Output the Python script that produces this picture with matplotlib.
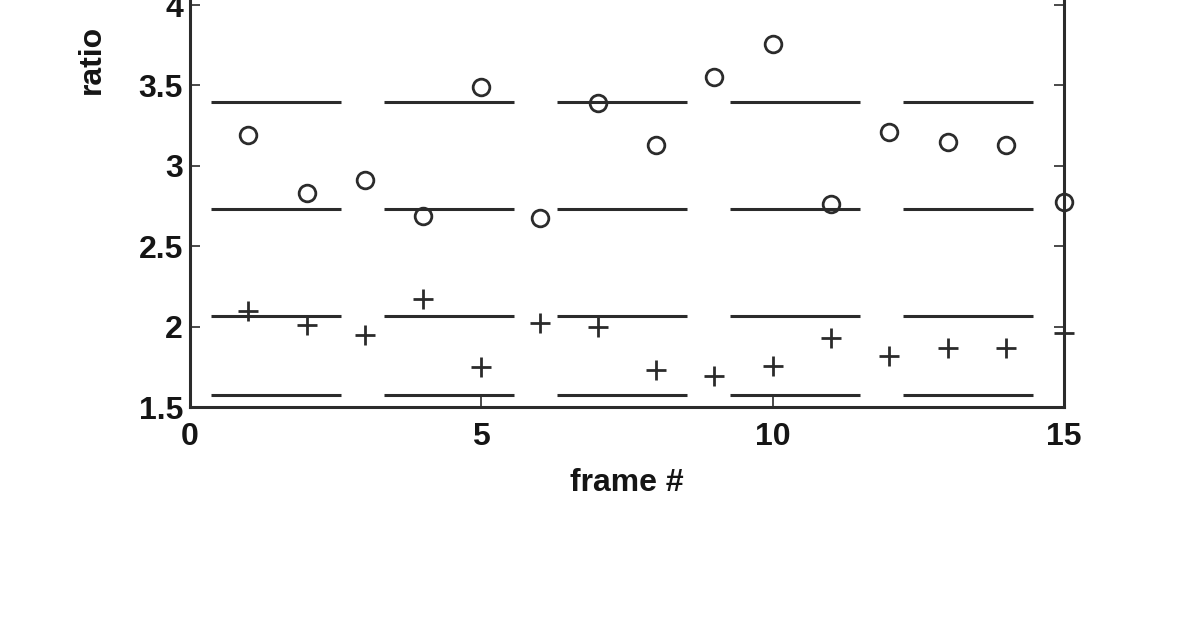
import numpy as np
import matplotlib
matplotlib.use("Agg")
import matplotlib.pyplot as plt

## values
frames = [1, 2, 3, 4, 5, 6, 7, 8, 9, 10, 11, 12, 13, 14, 15]
ratio_circles = [3.19, 2.83, 2.91, 2.69, 3.49, 2.675, 3.39, 3.13, 3.55, 3.76, 2.76, 3.21, 3.15, 3.13, 2.775]
ratio_plus = [2.10, 2.01, 1.95, 2.17, 1.75, 2.02, 2.00, 1.73, 1.69, 1.755, 1.93, 1.82, 1.87, 1.87, 1.96]
ref_levels = [3.40, 2.73, 2.065, 1.575]  ## the long-dashed reference lines
x_ticks = [0, 5, 10, 15]
y_ticks = [1.5, 2, 2.5, 3, 3.5, 4]
y_tick_labels = ["1.5", "2", "2.5", "3", "3.5", "4"]

plt.rcParams['font.family'] = ['Liberation Sans', 'DejaVu Sans']
plt.rcParams['lines.scale_dashes'] = False
ink = '#2b2b2b'
txt = '#151515'

fig = plt.figure(figsize=(11.96, 6.28), dpi=100)
## axes runs past the top of the picture, like the cropped original
ax = fig.add_axes([0.1589, 0.3519, 0.7308, 0.768])
ax.set_xlim(0, 15)
ax.set_ylim(1.5, 4.5)

px = 72 / 100  ## points per pixel
for level in ref_levels:
    ax.axhline(level, color=ink, lw=2.2, linestyle=(152 * px, (130 * px, 43 * px)))

ax.plot(frames, ratio_circles, linestyle='none', marker='o', ms=12, mfc='none',
        mec=ink, mew=2.0, clip_on=False, zorder=3)
ax.plot(frames, ratio_plus, linestyle='none', marker='+', ms=15, mec=ink,
        mew=2.0, clip_on=False, zorder=3)

ax.set_xticks(x_ticks)
ax.set_yticks(y_ticks)
ax.set_yticklabels(y_tick_labels)
ax.tick_params(direction='in', length=7, width=1.2, colors=ink, labelsize=23,
               labelcolor=txt, right=True, top=True)
ax.tick_params(axis='y', pad=5)
ax.tick_params(axis='x', pad=11)
for lab in ax.get_xticklabels() + ax.get_yticklabels():
    lab.set_fontweight('bold')
for s in ax.spines.values():
    s.set_linewidth(2.2)
    s.set_color(ink)

ax.set_xlabel('frame #', fontsize=23, color=txt, labelpad=11, fontweight='bold')
ax.set_ylabel('ratio', fontsize=23, color=txt, fontweight='bold')
ax.yaxis.set_label_coords(-0.095, 0.72)

fig.savefig('out.png', dpi=100)
